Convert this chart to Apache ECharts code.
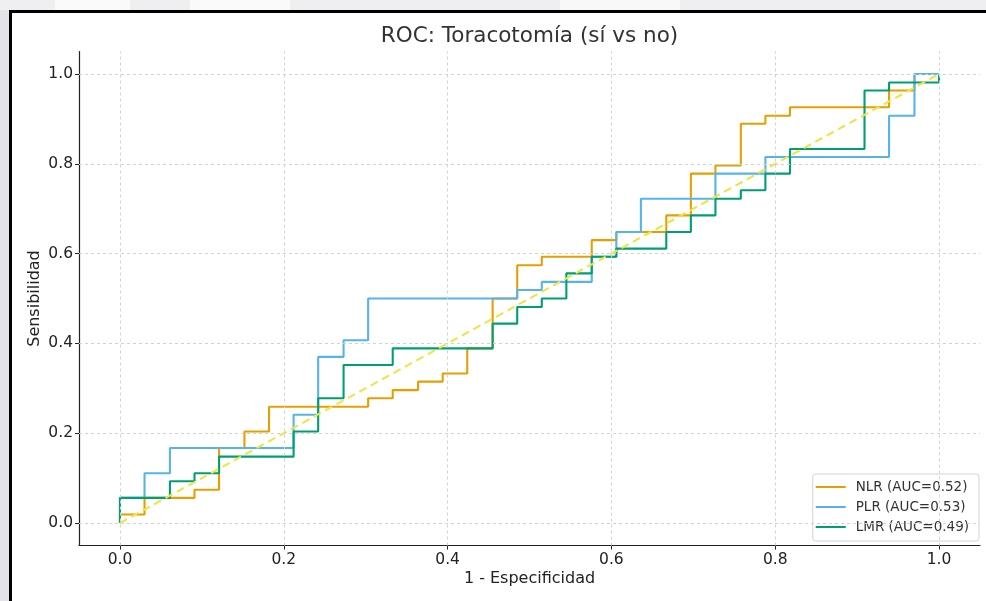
<!DOCTYPE html>
<html>
<head>
<meta charset="utf-8">
<script src="https://cdn.jsdelivr.net/npm/echarts@6/dist/echarts.min.js"></script>
<style>
  html, body { margin: 0; padding: 0; background: #fff; }
  #chart { width: 986px; height: 601px; }
</style>
</head>
<body>
<div id="chart"></div>
<script>
// ROC points (1 - especificidad, sensibilidad)
var nlrFpr = [0, 0, 0.030, 0.091, 0.121, 0.152, 0.182, 0.303, 0.333, 0.364, 0.394, 0.424, 0.455, 0.485, 0.515, 0.576, 0.606, 0.667, 0.697, 0.727, 0.758, 0.788, 0.818, 0.939, 0.970, 1.000];
var nlrTpr = [0, 0.019, 0.056, 0.074, 0.167, 0.204, 0.259, 0.278, 0.296, 0.315, 0.333, 0.389, 0.500, 0.574, 0.593, 0.630, 0.648, 0.685, 0.778, 0.796, 0.889, 0.907, 0.926, 0.963, 1.000, 1.000];

var plrFpr = [0, 0, 0.030, 0.061, 0.212, 0.242, 0.273, 0.303, 0.485, 0.515, 0.576, 0.606, 0.636, 0.727, 0.788, 0.939, 0.970, 1.000];
var plrTpr = [0, 0.056, 0.111, 0.167, 0.241, 0.370, 0.407, 0.500, 0.519, 0.537, 0.593, 0.648, 0.722, 0.778, 0.815, 0.907, 1.000, 1.000];

var lmrFpr = [0, 0, 0.061, 0.091, 0.121, 0.212, 0.242, 0.273, 0.333, 0.455, 0.485, 0.515, 0.545, 0.576, 0.606, 0.667, 0.697, 0.727, 0.758, 0.788, 0.818, 0.909, 0.939, 1.000];
var lmrTpr = [0, 0.056, 0.093, 0.111, 0.148, 0.204, 0.278, 0.352, 0.389, 0.444, 0.481, 0.500, 0.556, 0.593, 0.611, 0.648, 0.685, 0.722, 0.741, 0.778, 0.833, 0.963, 0.981, 1.000];

var diagX = [0, 1];
var diagY = [0, 1];

var seriesNames = ['NLR (AUC=0.52)', 'PLR (AUC=0.53)', 'LMR (AUC=0.49)'];
var xTicks = [0, 0.2, 0.4, 0.6, 0.8, 1.0];
var yTicks = [0, 0.2, 0.4, 0.6, 0.8, 1.0];

function pairs(xs, ys) {
    return xs.map(function (x, i) { return [x, ys[i]]; });
}

var dom = document.getElementById('chart');
var myChart = echarts.init(dom);
var font = 'DejaVu Sans';

var gridLines = [];
xTicks.forEach(function (v) { gridLines.push({ xAxis: v }); });
yTicks.forEach(function (v) { gridLines.push({ yAxis: v }); });

function rocSeries(name, data, color) {
    return {
        name: name,
        type: 'line',
        step: 'end',
        data: data,
        showSymbol: false,
        symbol: 'none',
        lineStyle: { color: color, width: 2.1 },
        itemStyle: { color: color },
        z: 3
    };
}

var option = {
    backgroundColor: '#fff',
    animation: false,
    graphic: [
        // screenshot surroundings and frame
        { type: 'rect', shape: { x: 0, y: 0, width: 9, height: 601 }, style: { fill: '#e3e3e9' }, z: 0 },
        { type: 'rect', shape: { x: 0, y: 0, width: 986, height: 10 }, style: { fill: '#efeff2' }, z: 0 },
        { type: 'rect', shape: { x: 55, y: 0, width: 75, height: 10 }, style: { fill: '#fafafa' }, z: 0 },
        { type: 'rect', shape: { x: 190, y: 0, width: 100, height: 10 }, style: { fill: '#fafafa' }, z: 0 },
        { type: 'rect', shape: { x: 560, y: 0, width: 120, height: 10 }, style: { fill: '#f8f8f8' }, z: 0 },
        { type: 'rect', shape: { x: 9, y: 10, width: 3, height: 591 }, style: { fill: '#000' }, z: 1 },
        { type: 'rect', shape: { x: 9, y: 10, width: 977, height: 3 }, style: { fill: '#000' }, z: 1 },
        {
            type: 'text', x: 529.5, y: 36,
            style: {
                text: 'ROC: Toracotomía (sí vs no)',
                fontFamily: font, fontSize: 21.5, fill: '#333',
                textAlign: 'center', textVerticalAlign: 'middle'
            }
        }
    ],
    legend: {
        data: seriesNames,
        orient: 'vertical',
        right: 7,
        bottom: 60,
        icon: 'rect',
        itemWidth: 30,
        itemHeight: 2,
        itemGap: 6,
        padding: [6, 10, 7, 3],
        backgroundColor: '#fff',
        borderColor: '#d4d4d4',
        borderWidth: 1,
        borderRadius: 3,
        textStyle: { fontFamily: font, fontSize: 13.5, color: '#333', lineHeight: 14, padding: [0, 0, 0, 5] }
    },
    grid: { left: 79, right: 6, top: 51.5, bottom: 55.5, containLabel: false },
    xAxis: {
        type: 'value',
        min: -0.05,
        max: 1.05,
        name: '1 - Especificidad',
        nameLocation: 'middle',
        nameGap: 25,
        nameMoveOverlap: false,
        nameTextStyle: { fontFamily: font, fontSize: 16, color: '#222' },
        axisLine: { show: true, onZero: false, lineStyle: { color: '#222', width: 1.2 } },
        axisTick: { show: true, length: 4, customValues: xTicks, lineStyle: { color: '#222' } },
        axisLabel: {
            customValues: xTicks, margin: 6,
            fontFamily: font, fontSize: 15.5, color: '#222',
            formatter: function (v) { return v.toFixed(1); }
        },
        splitLine: { show: false }
    },
    yAxis: {
        type: 'value',
        min: -0.05,
        max: 1.05,
        name: 'Sensibilidad',
        nameLocation: 'middle',
        nameGap: 36,
        nameMoveOverlap: false,
        nameTextStyle: { fontFamily: font, fontSize: 16, color: '#222' },
        axisLine: { show: true, onZero: false, lineStyle: { color: '#222', width: 1.2 } },
        axisTick: { show: true, length: 4, customValues: yTicks, lineStyle: { color: '#222' } },
        axisLabel: {
            customValues: yTicks, margin: 6,
            fontFamily: font, fontSize: 15.5, color: '#222',
            formatter: function (v) { return v.toFixed(1); }
        },
        splitLine: { show: false }
    },
    series: [
        {
            name: 'grid',
            type: 'line',
            data: [],
            silent: true,
            z: 1,
            markLine: {
                silent: true,
                symbol: 'none',
                label: { show: false },
                animation: false,
                lineStyle: { color: '#d2d2d2', width: 1, type: [3, 3] },
                data: gridLines
            }
        },
        rocSeries(seriesNames[0], pairs(nlrFpr, nlrTpr), '#E69F00'),
        rocSeries(seriesNames[1], pairs(plrFpr, plrTpr), '#56B4E9'),
        rocSeries(seriesNames[2], pairs(lmrFpr, lmrTpr), '#009E73'),
        {
            name: 'diag',
            type: 'line',
            data: pairs(diagX, diagY),
            symbol: 'none',
            lineStyle: { color: '#F0E442', width: 2.1, type: [8, 5] },
            z: 4
        }
    ]
};

myChart.setOption(option);
</script>
</body>
</html>
